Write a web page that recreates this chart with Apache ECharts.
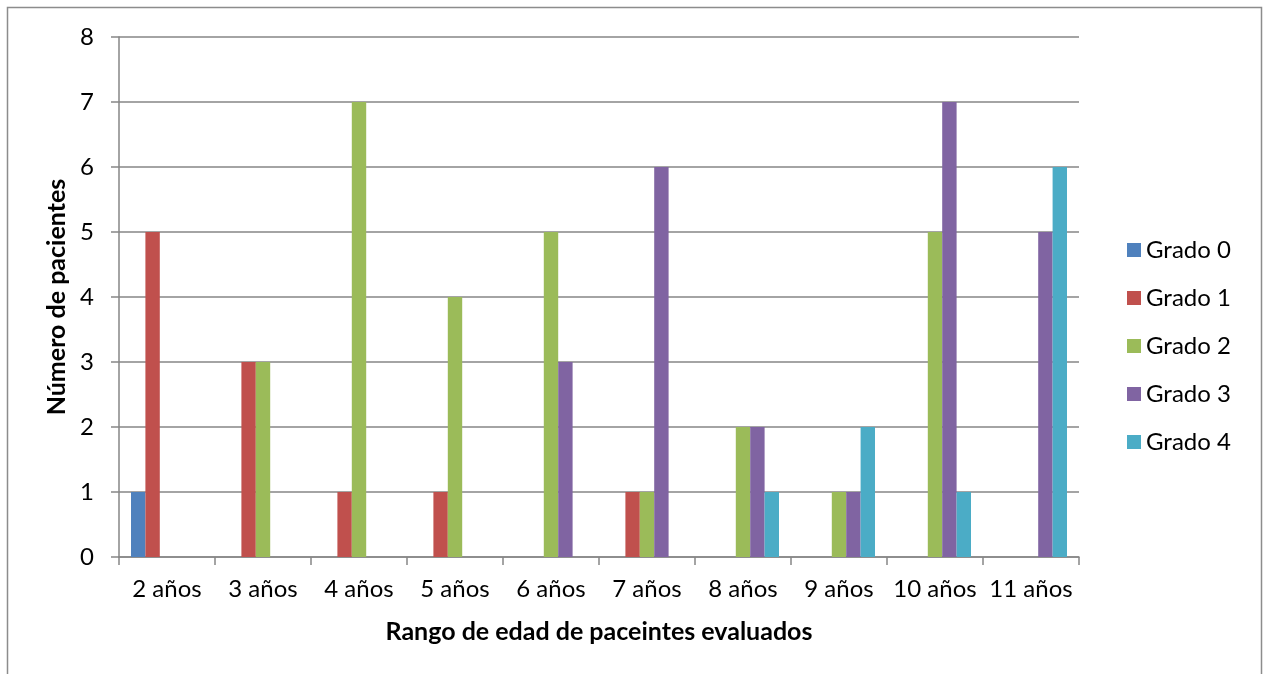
<!DOCTYPE html>
<html><head><meta charset="utf-8">
<script src="https://cdn.jsdelivr.net/npm/echarts@6/dist/echarts.min.js"></script>
<style>html,body{margin:0;padding:0;background:#fff}#c{width:1271px;height:674px}</style>
</head><body><div id="c"></div>
<script>
const categories = ['2 años','3 años','4 años','5 años','6 años','7 años','8 años','9 años','10 años','11 años'];
const seriesNames = ['Grado 0','Grado 1','Grado 2','Grado 3','Grado 4'];
const grado0 = [1,0,0,0,0,0,0,0,0,0];
const grado1 = [5,3,1,1,0,1,0,0,0,0];
const grado2 = [0,3,7,4,5,1,2,1,5,0];
const grado3 = [0,0,0,0,3,6,2,1,7,5];
const grado4 = [0,0,0,0,0,0,1,2,1,6];
const yTicks = [0,1,2,3,4,5,6,7,8];
const colors = ['#4F81BD','#C0504D','#9BBB59','#8064A2','#4BACC6'];
const allData = [grado0,grado1,grado2,grado3,grado4];
const font = 'Lato, "Open Sans", sans-serif';
const chart = echarts.init(document.getElementById('c'));
chart.setOption({
  animation:false,
  color: colors,
  graphic:[{type:'rect',shape:{x:7.5,y:7.5,width:1254,height:700},style:{fill:'none',stroke:'#8c8c8c',lineWidth:1.5},z:-1}],
  grid:{left:119,right:192,top:37,bottom:117},
  legend:{orient:'vertical',left:1122,top:233,itemWidth:14,itemHeight:14,itemGap:24,icon:'rect',
    textStyle:{fontFamily:font,fontSize:24,lineHeight:24,color:'#000'},data:seriesNames},
  xAxis:{type:'category',data:categories,
    name:'Rango de edad de paceintes evaluados',nameLocation:'middle',nameGap:62,
    nameTextStyle:{fontFamily:font,fontSize:25,fontWeight:'bold',color:'#000'},
    axisLine:{lineStyle:{color:'#868686',width:1.5}},
    axisTick:{show:true,length:8,interval:0,lineStyle:{color:'#868686',width:1.5}},
    axisLabel:{fontFamily:font,fontSize:24,color:'#000',margin:20,interval:0,hideOverlap:false}},
  yAxis:{type:'value',min:yTicks[0],max:yTicks[yTicks.length-1],interval:1,
    name:'Número de pacientes',nameLocation:'middle',nameGap:47,
    nameTextStyle:{fontFamily:font,fontSize:25,fontWeight:'bold',color:'#000'},
    axisLine:{show:true,lineStyle:{color:'#868686',width:1.5}},
    axisTick:{show:true,length:8,lineStyle:{color:'#868686',width:1.5}},
    splitLine:{lineStyle:{color:'#868686',width:1.5}},
    axisLabel:{fontFamily:font,fontSize:24,color:'#000',margin:25}},
  series: seriesNames.map((n,i)=>({name:n,type:'bar',data:allData[i],barGap:'0%',barCategoryGap:'25%'}))
});
</script></body></html>
